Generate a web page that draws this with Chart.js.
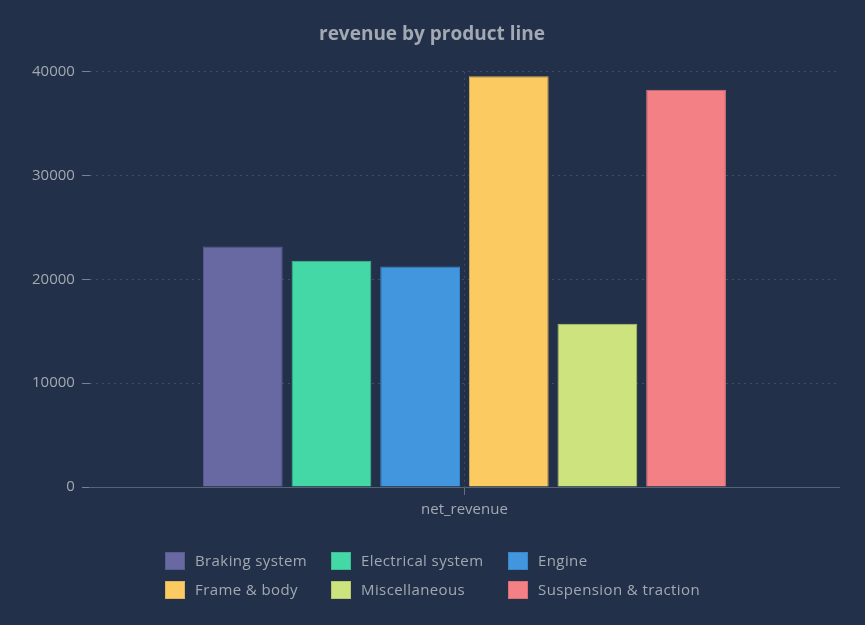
<!DOCTYPE html>
<html>
<head>
<meta charset="utf-8">
<script src="https://cdn.jsdelivr.net/npm/chart.js@4"></script>
<style>
  html, body { margin: 0; padding: 0; background: #223049; }
  #wrap { width: 865px; height: 625px; position: relative; }
</style>
</head>
<body>
<div id="wrap"><canvas id="c" width="865" height="625"></canvas></div>
<script>
const categories = ['net_revenue'];
const seriesNames = ['Braking system', 'Electrical system', 'Engine', 'Frame & body', 'Miscellaneous', 'Suspension & traction'];
const seriesValues = [23170, 21790, 21240, 39560, 15720, 38280];
const seriesColors = ['#6868a2', '#43d8a5', '#4196de', '#fbcb62', '#cde37d', '#f28084'];
const seriesBorders = ['#5b5b90', '#3bbf92', '#3985c6', '#dfb357', '#b6c96f', '#d77175'];
const titleText = 'revenue by product line';

const TEXT = '#a3a9b2';
const FONT = "'Open Sans', sans-serif";

const gridLegend = {
  id: 'gridLegend',
  afterDraw(chart) {
    const ctx = chart.ctx;
    ctx.save();
    ctx.font = "15px " + FONT;
    try { ctx.letterSpacing = '0.4px'; } catch (e) {}
    const boxW = 20, boxH = 18, gapText = 10, colGap = 24, cols = 3, rowH = 29;
    const widths = seriesNames.map(n => boxW + gapText + ctx.measureText(n).width);
    const colW = [];
    for (let c = 0; c < cols; c++) {
      let m = 0;
      for (let i = c; i < seriesNames.length; i += cols) m = Math.max(m, widths[i]);
      colW.push(m);
    }
    const total = colW.reduce((a, b) => a + b, 0) + colGap * (cols - 1);
    const startX = (chart.width - total) / 2;
    const top = 552;
    seriesNames.forEach((name, i) => {
      const c = i % cols, r = Math.floor(i / cols);
      let x = startX;
      for (let k = 0; k < c; k++) x += colW[k] + colGap;
      x = Math.round(x);
      const y = top + r * rowH;
      ctx.fillStyle = seriesColors[i];
      ctx.fillRect(x, y, boxW, boxH);
      ctx.strokeStyle = seriesBorders[i];
      ctx.lineWidth = 1;
      ctx.strokeRect(x + 0.5, y + 0.5, boxW - 1, boxH - 1);
      ctx.fillStyle = TEXT;
      ctx.textBaseline = 'middle';
      ctx.textAlign = 'left';
      ctx.fillText(name, x + boxW + gapText, y + boxH / 2 + 0.5);
    });
    ctx.restore();
  }
};

const datasets = seriesNames.map((name, i) => ({
  label: name,
  data: [seriesValues[i]],
  backgroundColor: seriesColors[i],
  borderColor: seriesBorders[i],
  borderWidth: 1,
  barPercentage: 0.9,
  categoryPercentage: 0.71
}));

new Chart(document.getElementById('c'), {
  type: 'bar',
  data: { labels: categories, datasets },
  plugins: [gridLegend],
  options: {
    responsive: false,
    animation: false,
    devicePixelRatio: 1,
    layout: { padding: { left: 25, right: 26, top: 15, bottom: 100 } },
    plugins: {
      legend: { display: false },
      tooltip: { enabled: false },
      title: {
        display: true,
        text: titleText,
        color: TEXT,
        font: { family: FONT, size: 19, weight: 'bold' },
        padding: { top: 8, bottom: 26 }
      }
    },
    scales: {
      x: {
        grid: {
          offset: false,
          color: 'rgba(255,255,255,0.14)',
          tickColor: 'rgba(255,255,255,0.3)',
          tickBorderDash: [],
          tickLength: 8
        },
        border: { display: true, color: '#566276', width: 1, dash: [2, 4] },
        ticks: { color: TEXT, font: { family: FONT, size: 15 }, padding: 6 }
      },
      y: {
        beginAtZero: true,
        max: 40000,
        grid: {
          color: 'rgba(255,255,255,0.14)',
          tickColor: 'rgba(255,255,255,0.4)',
          tickBorderDash: [],
          tickLength: 8
        },
        border: { display: false, dash: [2, 4] },
        ticks: {
          color: TEXT,
          font: { family: FONT, size: 15 },
          padding: 7,
          stepSize: 10000,
          callback: v => String(v)
        }
      }
    }
  }
});
</script>
</body>
</html>
